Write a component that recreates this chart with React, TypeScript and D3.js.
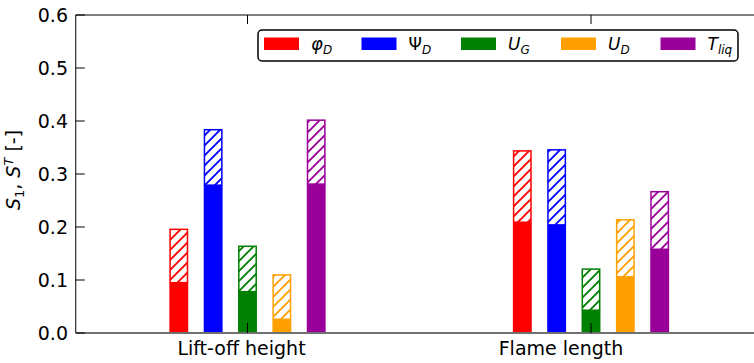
import React from "react";
import * as d3 from "d3";

const categories = ["Lift-off height", "Flame length"];
const params = ["phi", "Psi", "UG", "UD", "Tliq"];
const colors = ["#ff0000", "#0000ff", "#008000", "#ffa000", "#990099"];
// first-order indices S1 per category (rows) and parameter (cols)
const firstOrder = [
  [0.095, 0.279, 0.078, 0.026, 0.281],
  [0.209, 0.204, 0.043, 0.106, 0.158],
];
// total-order indices ST
const totalOrder = [
  [0.197, 0.385, 0.165, 0.111, 0.403],
  [0.345, 0.347, 0.122, 0.215, 0.268],
];
const yTicks = [0, 0.1, 0.2, 0.3, 0.4, 0.5, 0.6];

const W = 754;
const H = 363;
const FONT = "DejaVu Sans, sans-serif";

export default function App() {
  const x = d3.scaleLinear().domain([-0.5, 1.5]).range([75.75, 762.75]);
  const y = d3.scaleLinear().domain([0, 0.6]).range([333, 15]);
  const barW = 0.055;
  const barStep = 0.1;
  const px = (v: number) => x(v) - x(0);

  const legendLabel = (i: number) => {
    const base = { fontStyle: "italic" as const };
    switch (i) {
      case 0:
        return (
          <>
            <tspan style={base} fontSize="18">φ</tspan>
            <tspan style={base} fontSize="12" dy="4">D</tspan>
          </>
        );
      case 1:
        return (
          <>
            <tspan>Ψ</tspan>
            <tspan style={base} fontSize="12" dy="4">D</tspan>
          </>
        );
      case 2:
        return (
          <>
            <tspan style={base}>U</tspan>
            <tspan style={base} fontSize="12" dy="4">G</tspan>
          </>
        );
      case 3:
        return (
          <>
            <tspan style={base}>U</tspan>
            <tspan style={base} fontSize="12" dy="4">D</tspan>
          </>
        );
      default:
        return (
          <>
            <tspan style={base}>T</tspan>
            <tspan style={base} fontSize="12" dy="4">liq</tspan>
          </>
        );
    }
  };

  const legendX = [264, 361.5, 461, 561, 660.5];
  const labelOffsets = [-6, -30];
  const hs = 10;

  return (
    <svg
      width={W}
      height={H}
      style={{ position: "absolute", left: 0, top: 0, background: "#fff" }}
      fontFamily={FONT}
    >
      <defs>
        {colors.map((c, i) => (
          <pattern
            key={i}
            id={`hatch${i}`}
            patternUnits="userSpaceOnUse"
            width={hs}
            height={hs}
          >
            <rect width={hs} height={hs} fill="#fff" />
            <path
              d={`M-2,2 L2,-2 M0,${hs} L${hs},0 M${hs - 2},${hs + 2} L${hs + 2},${hs - 2}`}
              stroke={c}
              strokeWidth={1.9}
            />
          </pattern>
        ))}
      </defs>

      {/* bars */}
      {categories.map((cat, gi) =>
        params.map((p, pi) => {
          const cx = gi + (pi - 2) * barStep;
          const x0 = x(cx - barW / 2);
          const w = px(barW);
          const s1 = firstOrder[gi][pi];
          const st = totalOrder[gi][pi];
          return (
            <g key={`${gi}-${pi}`}>
              <rect
                x={x0}
                y={y(s1)}
                width={w}
                height={y(0) - y(s1)}
                fill={colors[pi]}
              />
              <rect
                x={x0 + 0.75}
                y={y(st) + 0.75}
                width={w - 1.5}
                height={y(s1) - y(st) - 0.75}
                fill={`url(#hatch${pi})`}
                stroke={colors[pi]}
                strokeWidth={1.5}
              />
            </g>
          );
        })
      )}

      {/* spines */}
      <line x1={x(-0.5)} x2={W} y1={y(0.6)} y2={y(0.6)} stroke="#000" strokeWidth={1} />
      <line x1={x(-0.5)} x2={x(-0.5)} y1={y(0.6)} y2={y(0)} stroke="#000" strokeWidth={1} />
      <line x1={x(-0.5)} x2={W} y1={y(0)} y2={y(0)} stroke="#707070" strokeWidth={2} />

      {/* y ticks */}
      {yTicks.map((t) => (
        <g key={t}>
          <line x1={x(-0.5)} x2={x(-0.5) + 9} y1={y(t)} y2={y(t)} stroke="#000" strokeWidth={1} />
          <text
            x={68}
            y={y(t)}
            dy="0.36em"
            textAnchor="end"
            fontSize={19}
            fill="#000"
          >
            {t.toFixed(1)}
          </text>
        </g>
      ))}

      {/* x ticks */}
      {categories.map((c, gi) => (
        <g key={c}>
          <line x1={x(gi)} x2={x(gi)} y1={y(0)} y2={y(0) - 10} stroke="#000" strokeWidth={1} />
          <line x1={x(gi)} x2={x(gi)} y1={y(0.6)} y2={y(0.6) + 9} stroke="#000" strokeWidth={1} />
          <text
            x={x(gi) + labelOffsets[gi]}
            y={355}
            textAnchor="middle"
            fontSize={19}
            fill="#000"
          >
            {c}
          </text>
        </g>
      ))}

      {/* y label */}
      <text
        transform={`translate(20,170) rotate(-90)`}
        textAnchor="middle"
        fontSize={19}
        fill="#000"
      >
        <tspan fontStyle="italic">S</tspan>
        <tspan fontSize={13} dy="4">1</tspan>
        <tspan dy="-4">, </tspan>
        <tspan fontStyle="italic">S</tspan>
        <tspan fontSize={13} fontStyle="italic" dy="-7">T</tspan>
        <tspan dy="7"> [-]</tspan>
      </text>

      {/* legend */}
      <rect x={258} y={30} width={480} height={31} rx={4} fill="#fff" stroke="#000" strokeWidth={1.5} />
      {params.map((p, i) => (
        <g key={p}>
          <rect x={legendX[i]} y={37.5} width={35} height={12.5} fill={colors[i]} />
          <text x={legendX[i] + 47} y={50} fontSize={17} fill="#000">
            {legendLabel(i)}
          </text>
        </g>
      ))}
    </svg>
  );
}
